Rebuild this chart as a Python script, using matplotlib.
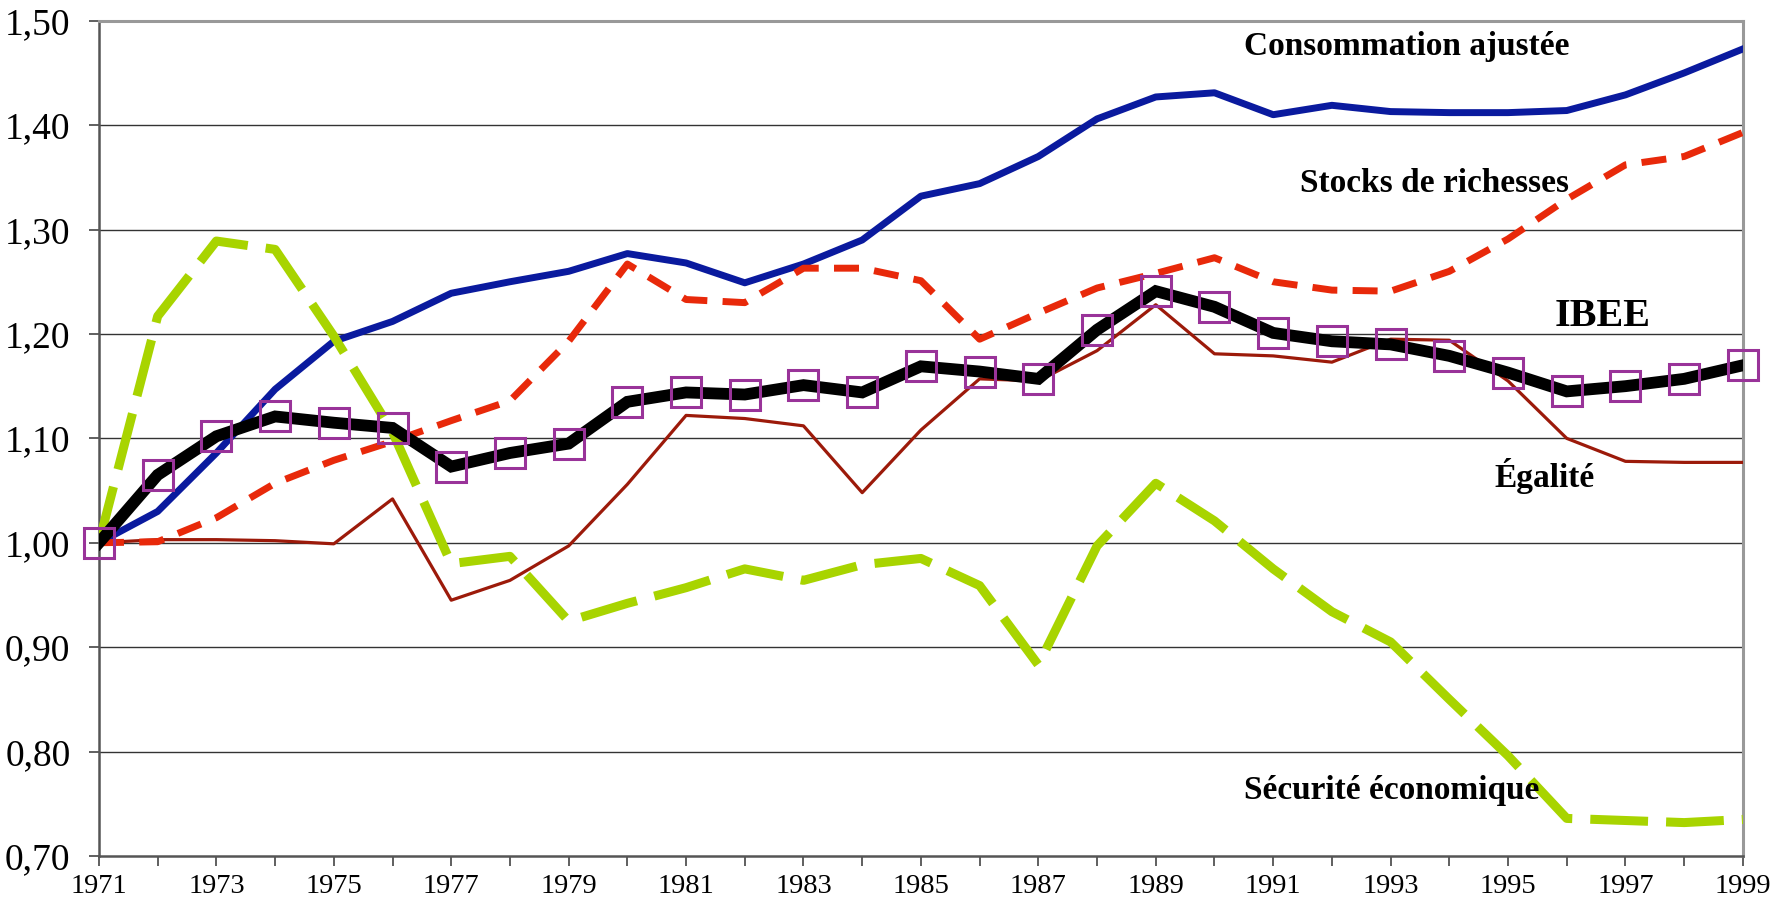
import matplotlib
matplotlib.use("Agg")
import matplotlib.pyplot as plt
import numpy as np

years = list(range(1971, 2000))

consommation = [1.000, 1.030, 1.086, 1.147, 1.193, 1.212, 1.239, 1.250, 1.260, 1.277,
                 1.268, 1.249, 1.267, 1.290, 1.332, 1.344, 1.370, 1.406, 1.427, 1.431,
                 1.410, 1.419, 1.413, 1.412, 1.412, 1.414, 1.429, 1.450, 1.473]

stocks = [1.000, 1.001, 1.024, 1.057, 1.079, 1.097, 1.117, 1.136, 1.193, 1.267,
          1.233, 1.230, 1.263, 1.263, 1.251, 1.195, 1.220, 1.244, 1.258, 1.273,
          1.250, 1.242, 1.241, 1.260, 1.291, 1.329, 1.362, 1.370, 1.393]

ibee = [1.000, 1.065, 1.102, 1.121, 1.115, 1.110, 1.073, 1.086, 1.095, 1.135,
        1.144, 1.142, 1.151, 1.144, 1.169, 1.164, 1.157, 1.204, 1.241, 1.226,
        1.201, 1.193, 1.190, 1.179, 1.163, 1.145, 1.150, 1.157, 1.170]

egalite = [1.000, 1.003, 1.003, 1.002, 0.999, 1.042, 0.945, 0.964, 0.997, 1.056,
           1.122, 1.119, 1.112, 1.048, 1.108, 1.157, 1.155, 1.184, 1.228, 1.181,
           1.179, 1.173, 1.195, 1.194, 1.155, 1.100, 1.078, 1.077, 1.077]

securite = [1.000, 1.217, 1.289, 1.281, 1.198, 1.106, 0.980, 0.987, 0.925, 0.942,
            0.957, 0.975, 0.964, 0.979, 0.985, 0.959, 0.883, 0.997, 1.057, 1.021,
            0.975, 0.934, 0.905, 0.850, 0.796, 0.736, 0.734, 0.732, 0.735]

yticks = [0.70, 0.80, 0.90, 1.00, 1.10, 1.20, 1.30, 1.40, 1.50]

plt.rcParams["font.family"] = ["Liberation Serif", "DejaVu Serif"]

fig = plt.figure(figsize=(17.83, 9.02), dpi=100)
ax = fig.add_axes([0.0555, 0.051, 0.922, 0.926])

# horizontal grid lines
for v in yticks[1:-1]:
    ax.axhline(v, color="#333333", lw=1.0, zorder=1)

ax.plot(years, egalite, color="#9C1A0A", lw=2.3, zorder=3)
ax.plot(years, consommation, color="#0A1A9E", lw=5.0, zorder=4)
ax.plot(years, stocks, color="#E8290A", lw=5.0, dashes=(3.6, 2.2), zorder=5)
ax.plot(years, securite, color="#A8D400", lw=6.5, dashes=(6.4, 2.0), zorder=6)
ax.plot(years, ibee, color="black", lw=8.5, zorder=7, solid_joinstyle="miter")
ax.plot(years, ibee, ls="none", marker="s", ms=21, mfc="none", mec="#993399",
        mew=2.2, zorder=8, clip_on=False)

ax.set_xlim(1971, 1999)
ax.set_ylim(0.70, 1.50)
ax.set_yticks(yticks)
ax.set_yticklabels([f"{v:.2f}".replace(".", ",") for v in yticks], fontsize=27)
ax.set_xticks(years)
ax.set_xticklabels([str(y) if (y - 1971) % 2 == 0 else "" for y in years], fontsize=20.5)
ax.tick_params(axis="both", direction="out", length=7, width=1.2, color="#444444")
ax.tick_params(axis="x", pad=6)
ax.tick_params(axis="y", pad=13.5)

for s in ["left", "bottom"]:
    ax.spines[s].set_color("#555555")
    ax.spines[s].set_linewidth(1.8)
for s in ["top", "right"]:
    ax.spines[s].set_color("#999999")
    ax.spines[s].set_linewidth(2.2)

lab = dict(fontsize=24, fontweight="bold", va="center", ha="left", zorder=9)
ax.text(1990.5, 1.475, "Consommation ajustée", **lab)
ax.text(1991.45, 1.344, "Stocks de richesses", **lab)
ax.text(1995.8, 1.217, "IBEE", fontsize=29, fontweight="bold", va="center", ha="left", zorder=9)
ax.text(1994.76, 1.064, "Égalité", **lab)
ax.text(1990.5, 0.763, "Sécurité économique", **lab)

fig.savefig("out.png", dpi=100)
